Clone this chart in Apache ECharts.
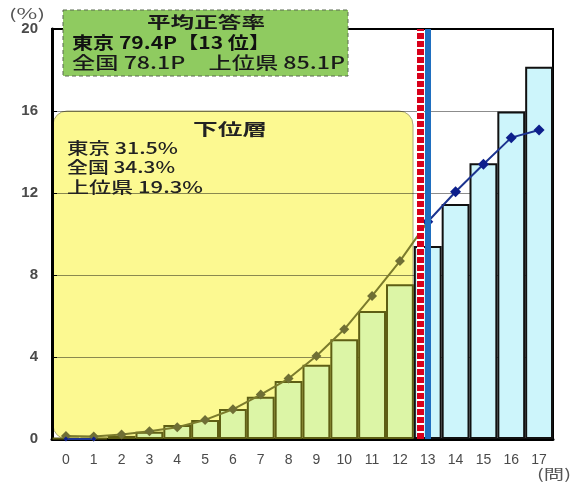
<!DOCTYPE html>
<html>
<head>
    <meta charset="utf-8">
    <title>正答数分布</title>
    <script src="https://cdn.jsdelivr.net/npm/echarts@6/dist/echarts.min.js"></script>
    <style>
        html, body { margin: 0; padding: 0; background: #fff; }
        #chart1 { width: 572px; height: 484px; }
    </style>
</head>
<body>
<div id="chart1"></div>
<script type="text/javascript">
    // 正答数（問）ごとの割合
    var categories = ['0', '1', '2', '3', '4', '5', '6', '7', '8', '9', '10', '11', '12', '13', '14', '15', '16', '17'];
    // 棒（東京）
    var barValues = [0.05, 0.05, 0.15, 0.35, 0.68, 0.93, 1.46, 2.06, 2.83, 3.62, 4.86, 6.25, 7.55, 9.41, 11.46, 13.45, 15.97, 18.16];
    // 折れ線（全国）下位層の部分
    var lowerLine = [0.15, 0.12, 0.22, 0.38, 0.57, 0.93, 1.45, 2.17, 2.95, 4.05, 5.35, 6.98, 8.68, 10.6, null, null, null, null];
    // 折れ線（全国）上位の部分
    var upperLine = [0, 0, null, null, null, null, null, null, null, null, null, null, null, 10.6, 12.06, 13.4, 14.7, 15.07];
    var yTicks = [0, 4, 8, 12, 16, 20];
    var lowerCount = 13;   // 下位層 = 0〜12問
    var boundary = [13.22, 13.49]; // 区切り線の位置

    var cjk = "'Noto Sans CJK JP', sans-serif";
    var myChart1 = echarts.init(document.getElementById('chart1'));

    // 元画像は横に伸びているので、文字を目標の幅に合わせて横に伸ばす
    var ctx = document.createElement('canvas').getContext('2d');
    function label(text, x, y, font, width, align, z, fill) {
        ctx.font = font;
        var w = ctx.measureText(text).width;
        return {
            type: 'text', z: z || 20, x: x, y: y,
            scaleX: width / w,
            style: { text: text, x: 0, y: 0, font: font, fill: fill || '#222', align: align || 'left', verticalAlign: 'middle' }
        };
    }

    var barData = barValues.map(function (v, i) {
        var low = i < lowerCount;
        return {
            value: v,
            itemStyle: {
                color: low ? '#dcf5a6' : '#cdf5fb',
                borderColor: low ? '#5e5e14' : '#111',
                borderWidth: 2
            }
        };
    });
    var lowerData = lowerLine.map(function (v, i) {
        return i === lowerCount ? { value: v, symbol: 'none' } : v;
    });
    var upperData = upperLine.map(function (v, i) {
        return i < lowerCount ? { value: v, symbolSize: 5 } : v;
    });

    myChart1.setOption({
        animation: false,
        textStyle: { fontFamily: cjk },
        grid: {
            left: 52, right: 19, top: 29, bottom: 45,
            show: true, borderColor: '#000', borderWidth: 2, backgroundColor: 'transparent'
        },
        xAxis: [{
            type: 'category',
            data: categories,
            axisLine: { lineStyle: { color: '#000', width: 3 } },
            axisTick: { show: false },
            axisLabel: { color: '#4a4a4a', fontSize: 14, margin: 14, fontFamily: 'Liberation Sans' }
        }, {
            type: 'value', min: 0, max: 18, show: false
        }],
        yAxis: {
            type: 'value',
            min: yTicks[0],
            max: yTicks[yTicks.length - 1],
            interval: yTicks[1] - yTicks[0],
            axisLine: { show: true, lineStyle: { color: '#000', width: 3 } },
            axisTick: { show: true, inside: true, length: 5, lineStyle: { color: '#000' } },
            axisLabel: { color: '#4a4a4a', fontSize: 15, fontWeight: 'bold', margin: 14, fontFamily: 'Liberation Sans' },
            splitLine: { lineStyle: { color: 'rgba(0,0,0,0.45)', width: 1 } }
        },
        series: [
            {
                name: '東京',
                type: 'bar',
                data: barData,
                barCategoryGap: '0%'
            },
            {
                name: '全国（下位）',
                type: 'line',
                data: lowerData,
                symbol: 'diamond',
                symbolSize: 10,
                itemStyle: { color: '#6f6f34' },
                lineStyle: { color: '#7b7b2c', width: 2 }
            },
            {
                name: '全国（上位）',
                type: 'line',
                data: upperData,
                symbol: 'diamond',
                symbolSize: 11,
                itemStyle: { color: '#0d1f8c' },
                lineStyle: { color: '#1c3490', width: 2 }
            },
            {
                // 区切り線
                type: 'line',
                xAxisIndex: 1,
                data: [[boundary[0], 0]],
                symbol: 'none',
                markLine: {
                    silent: true,
                    symbol: 'none',
                    label: { show: false },
                    data: [
                        { xAxis: boundary[0], lineStyle: { color: '#fff', width: 7, type: 'solid' } },
                        { xAxis: boundary[0], lineStyle: { color: '#d9001b', width: 7, type: [6, 2] } },
                        { xAxis: boundary[1], lineStyle: { color: '#1f6fc0', width: 6, type: 'solid' } }
                    ]
                }
            }
        ],
        graphic: [
            // 下位層の枠
            {
                type: 'rect', z: -1,
                shape: { x: 53, y: 111, width: 360, height: 328, r: 14 },
                style: { fill: '#fcf991', stroke: '#a9a67a', lineWidth: 1 }
            },
            label('下位層', 230, 129, 'bold 16px ' + cjk, 74, 'center'),
            label('東京 31.5%', 67, 148, '500 16px ' + cjk, 111),
            label('全国 34.3%', 67, 167, '500 16px ' + cjk, 108),
            label('上位県 19.3%', 67, 187, '500 16px ' + cjk, 136),
            // 平均正答率の枠
            {
                type: 'rect', z: 20,
                shape: { x: 63, y: 10, width: 285, height: 66 },
                style: { fill: '#8fcb60', stroke: '#5a6a50', lineWidth: 1, lineDash: [4, 3] }
            },
            label('平均正答率', 206, 22, 'bold 16px ' + cjk, 118, 'center', 21, '#1a1a1a'),
            label('東京 79.4P【13 位】', 72, 43, 'bold 17px ' + cjk, 198, 'left', 21, '#111'),
            label('全国 78.1P　上位県 85.1P', 72, 63, '500 17px ' + cjk, 273, 'left', 21, '#1a1a1a'),
            // 単位
            label('(%)', 27, 14, '14px ' + cjk, 36, 'center', 1, '#555'),
            label('(問)', 554, 474, '14px ' + cjk, 34, 'center', 1, '#555')
        ]
    });
</script>
</body>
</html>
